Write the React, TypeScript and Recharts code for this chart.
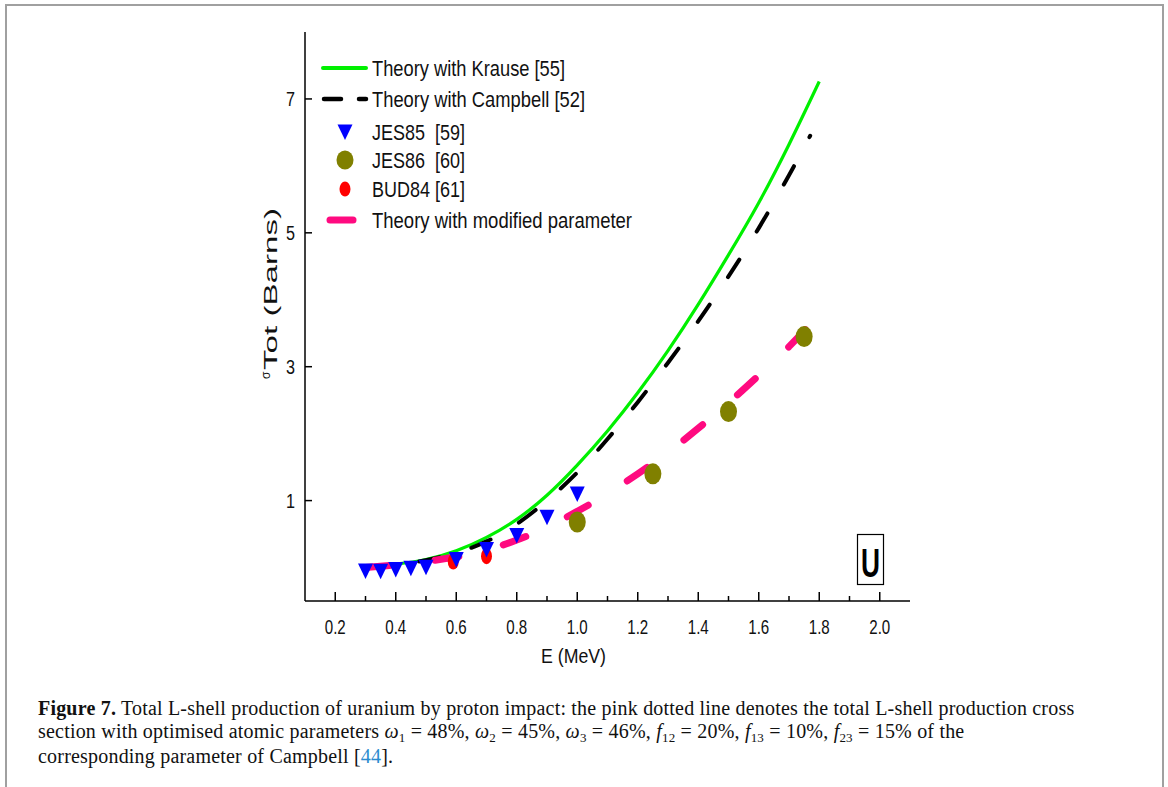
import React from "react";
import { ComposedChart, Line, Scatter, XAxis, YAxis, Legend } from "recharts";

// theory curves (E in MeV, sigma in barns)
const krauseE = [0.3, 0.4, 0.5, 0.6, 0.7, 0.8, 0.9, 1.0, 1.1, 1.2, 1.3, 1.4, 1.5, 1.6, 1.7, 1.8];
const krauseSigma = [0.0, 0.05, 0.12, 0.25, 0.45, 0.72, 1.08, 1.53, 2.04, 2.61, 3.24, 3.93, 4.67, 5.45, 6.32, 7.26];

const campbellE = [0.3, 0.4, 0.5, 0.6, 0.7, 0.8, 0.9, 1.0, 1.1, 1.2, 1.3, 1.4, 1.5, 1.6, 1.7, 1.77];
const campbellSigma = [0.0, 0.04, 0.11, 0.22, 0.39, 0.65, 1.0, 1.42, 1.92, 2.47, 3.06, 3.68, 4.35, 5.07, 5.86, 6.45];

const modifiedE = [0.3, 0.4, 0.5, 0.6, 0.7, 0.8, 0.9, 1.0, 1.1, 1.2, 1.3, 1.4, 1.5, 1.6, 1.7, 1.79];
const modifiedSigma = [0.0, 0.04, 0.09, 0.16, 0.26, 0.41, 0.6, 0.84, 1.1, 1.4, 1.72, 2.08, 2.46, 2.87, 3.3, 3.73];

// measurements
const jes85E = [0.3, 0.35, 0.4, 0.45, 0.5, 0.6, 0.7, 0.8, 0.9, 1.0];
const jes85Sigma = [-0.05, -0.055, -0.03, -0.01, 0.005, 0.12, 0.27, 0.48, 0.75, 1.1];

const jes86E = [1.0, 1.25, 1.5, 1.75];
const jes86Sigma = [0.68, 1.4, 2.33, 3.45];

const bud84E = [0.59, 0.7];
const bud84Sigma = [0.09, 0.17];

const xTicks = [0.2, 0.3, 0.4, 0.5, 0.6, 0.7, 0.8, 0.9, 1.0, 1.1, 1.2, 1.3, 1.4, 1.5, 1.6, 1.7, 1.8, 1.9, 2.0];
const yTicks = [1, 3, 5, 7];

const pts = (xs: number[], ys: number[]) => xs.map((E, i) => ({ E, s: ys[i] }));

const krause = pts(krauseE, krauseSigma);
const campbell = pts(campbellE, campbellSigma);
const modified = pts(modifiedE, modifiedSigma);
const jes85 = pts(jes85E, jes85Sigma);
const jes86 = pts(jes86E, jes86Sigma);
const bud84 = pts(bud84E, bud84Sigma);

const SANS = "'Liberation Sans', Arial, sans-serif";
const GREEN = "#00f000";
const PINK = "#ff0a80";
const OLIVE = "#808000";

// the source uses a condensed Arial, so texts are squeezed with textLength
function BottomTick({ x, y, payload }: any) {
  const v = payload.value as number;
  const major = Math.round(v * 10) % 2 === 0;
  return (
    <g>
      <line x1={x} x2={x} y1={y} y2={y - (major ? 9 : 5)} stroke="#000" strokeWidth={1.5} />
      {major && (
        <text
          x={x - 10.5}
          y={y + 33}
          fontFamily={SANS}
          fontSize={20}
          fill="#111"
          textLength={21}
          lengthAdjust="spacingAndGlyphs"
        >
          {v.toFixed(1)}
        </text>
      )}
    </g>
  );
}

function TopTick({ x, y }: any) {
  return <line x1={x} x2={x} y1={y} y2={y + 9} stroke="#000" strokeWidth={1.5} />;
}

function LeftTick({ x, y, payload }: any) {
  return (
    <g>
      <line x1={x} x2={x + 7} y1={y} y2={y} stroke="#000" strokeWidth={1.5} />
      <text
        x={x - 19}
        y={y + 7}
        fontFamily={SANS}
        fontSize={20}
        fill="#111"
        textLength={9}
        lengthAdjust="spacingAndGlyphs"
      >
        {payload.value}
      </text>
    </g>
  );
}

function RightTick({ x, y }: any) {
  return <line x1={x} x2={x - 9} y1={y} y2={y} stroke="#000" strokeWidth={1.5} />;
}

function XLabel() {
  return (
    <text x={541} y={663} fontFamily={SANS} fontSize={21} fill="#111" textLength={65} lengthAdjust="spacingAndGlyphs">
      E (MeV)
    </text>
  );
}

function YLabel() {
  return (
    <g fontFamily={SANS} fill="#111">
      <text transform="translate(270,379) rotate(-90)" fontSize={12}>
        σ
      </text>
      <text
        transform="translate(277,370) rotate(-90)"
        fontSize={19}
        textLength={162}
        lengthAdjust="spacingAndGlyphs"
      >
        Tot (Barns)
      </text>
    </g>
  );
}

function DownTriangle({ cx, cy, fill }: any) {
  return <path d={`M${cx - 7.5},${cy - 7.5} L${cx + 7.5},${cy - 7.5} L${cx},${cy + 8} Z`} fill={fill} />;
}

function OliveDot({ cx, cy }: any) {
  return <ellipse cx={cx} cy={cy} rx={8.5} ry={10.5} fill={OLIVE} />;
}

function RedDot({ cx, cy }: any) {
  return <ellipse cx={cx} cy={cy} rx={5.5} ry={8} fill="#ff0000" />;
}

const legendRows = [
  { label: "Theory with Krause [55]", len: 193, y: 68 },
  { label: "Theory with Campbell [52]", len: 213, y: 99 },
  { label: "JES85  [59]", len: 93, y: 132 },
  { label: "JES86  [60]", len: 93, y: 160 },
  { label: "BUD84 [61]", len: 93, y: 189 },
  { label: "Theory with modified parameter", len: 260, y: 220 },
];

function LegendBox() {
  return (
    <svg width={380} height={210} style={{ display: "block", overflow: "visible" }}>
      <g transform="translate(-300,-40)">
        <line x1={323} x2={366} y1={68} y2={68} stroke={GREEN} strokeWidth={4} strokeLinecap="round" />
        <line x1={324} x2={341} y1={99} y2={99} stroke="#000" strokeWidth={4.5} strokeLinecap="round" />
        <line x1={359} x2={366} y1={99} y2={99} stroke="#000" strokeWidth={4.5} strokeLinecap="round" />
        <DownTriangle cx={345} cy={132} fill="#0000ff" />
        <ellipse cx={345} cy={160} rx={8.5} ry={9.5} fill={OLIVE} />
        <ellipse cx={345} cy={189} rx={5.5} ry={7.5} fill="#ff0000" />
        <line x1={330} x2={353} y1={220} y2={220} stroke={PINK} strokeWidth={7} strokeLinecap="round" />
        {legendRows.map((r) => (
          <text
            key={r.label}
            x={372}
            y={r.y + 8}
            fontFamily={SANS}
            fontSize={22}
            fill="#111"
            textLength={r.len}
            lengthAdjust="spacingAndGlyphs"
            style={{ whiteSpace: "pre" }}
          >
            {r.label}
          </text>
        ))}
      </g>
    </svg>
  );
}

function Caption() {
  const sub = (t: string) => (
    <span style={{ fontSize: 13, position: "relative", top: 4, fontStyle: "normal" }}>{t}</span>
  );
  return (
    <div
      style={{
        position: "absolute",
        left: 38,
        top: 697,
        fontFamily: "'Liberation Serif', 'Times New Roman', serif",
        fontSize: 20,
        letterSpacing: 0.2,
        lineHeight: "23px",
        color: "#111",
        whiteSpace: "nowrap",
      }}
    >
      <div>
        <b>Figure 7.</b> Total L-shell production of uranium by proton impact: the pink dotted line denotes the total
        L-shell production cross
      </div>
      <div>
        section with optimised atomic parameters <i>ω</i>
        {sub("1")} = 48%, <i>ω</i>
        {sub("2")} = 45%, <i>ω</i>
        {sub("3")} = 46%, <i>f</i>
        {sub("12")} = 20%, <i>f</i>
        {sub("13")} = 10%, <i>f</i>
        {sub("23")} = 15% of the
      </div>
      <div>
        corresponding parameter of Campbell [<span style={{ color: "#2b8ccf" }}>44</span>].
      </div>
    </div>
  );
}

export default function App() {
  return (
    <div>
      <div
        style={{
          position: "absolute",
          left: 5,
          top: 4,
          width: 1159,
          height: 783,
          border: "2px solid #a0a0a0",
          borderBottom: "none",
          boxSizing: "border-box",
          background: "#fff",
        }}
      />
      <div style={{ position: "absolute", left: 0, top: 0 }}>
        <ComposedChart width={1168} height={690} margin={{ top: 32, right: 258, bottom: 29, left: 245 }}>
          <XAxis
            xAxisId="b"
            dataKey="E"
            type="number"
            domain={[0.1, 2.1]}
            ticks={xTicks}
            interval={0}
            allowDataOverflow
            height={60}
            tickSize={0}
            tickMargin={0}
            tickLine={false}
            tick={<BottomTick />}
            axisLine={{ stroke: "#000", strokeWidth: 1.5 }}
            label={<XLabel />}
          />
          <XAxis
            xAxisId="t"
            orientation="top"
            dataKey="E"
            type="number"
            domain={[0.1, 2.1]}
            ticks={xTicks}
            interval={0}
            allowDataOverflow
            height={0}
            tickSize={0}
            tickMargin={0}
            tickLine={false}
            tick={<TopTick />}
            axisLine={{ stroke: "#000", strokeWidth: 1.5 }}
          />
          <YAxis
            yAxisId="l"
            type="number"
            domain={[-0.5, 8]}
            ticks={yTicks}
            interval={0}
            allowDataOverflow
            width={60}
            tickSize={0}
            tickMargin={0}
            tickLine={false}
            tick={<LeftTick />}
            axisLine={{ stroke: "#000", strokeWidth: 1.5 }}
            label={<YLabel />}
          />
          <YAxis
            yAxisId="r"
            orientation="right"
            type="number"
            domain={[-0.5, 8]}
            ticks={yTicks}
            interval={0}
            allowDataOverflow
            width={0}
            tickSize={0}
            tickMargin={0}
            tickLine={false}
            tick={<RightTick />}
            axisLine={{ stroke: "#000", strokeWidth: 1.5 }}
          />
          <Legend
            layout="vertical"
            align="center"
            verticalAlign="middle"
            wrapperStyle={{ left: 300, top: 40, width: 380, height: 210 }}
            content={() => <LegendBox />}
          />
          <Scatter xAxisId="b" yAxisId="l" name="BUD84 [61]" data={bud84} dataKey="s" shape={<RedDot />} isAnimationActive={false} />
          <Scatter
            xAxisId="b"
            yAxisId="l"
            name="JES85 [59]"
            data={jes85}
            dataKey="s"
            shape={<DownTriangle fill="#0000ff" />}
            isAnimationActive={false}
          />
          <Scatter xAxisId="b" yAxisId="l" name="JES86 [60]" data={jes86} dataKey="s" shape={<OliveDot />} isAnimationActive={false} />
          <Line
            xAxisId="b"
            yAxisId="l"
            data={krause}
            dataKey="s"
            type="natural"
            stroke={GREEN}
            strokeWidth={3.2}
            dot={false}
            isAnimationActive={false}
          />
          <Line
            xAxisId="b"
            yAxisId="l"
            data={campbell}
            dataKey="s"
            type="natural"
            stroke="#000"
            strokeWidth={4}
            strokeDasharray="21 33"
            strokeLinecap="round"
            dot={false}
            isAnimationActive={false}
          />
          <Line
            xAxisId="b"
            yAxisId="l"
            data={modified}
            dataKey="s"
            type="natural"
            stroke={PINK}
            strokeWidth={7}
            strokeDasharray="24 46"
            strokeLinecap="round"
            dot={false}
            isAnimationActive={false}
          />
        </ComposedChart>
      </div>
      <svg width={60} height={70} style={{ position: "absolute", left: 840, top: 520 }}>
        <rect x={17.5} y={14.5} width={26} height={50} fill="#fff" stroke="#000" strokeWidth={1.2} />
        <text
          x={21}
          y={57}
          fontFamily={SANS}
          fontWeight="bold"
          fontSize={40}
          textLength={19}
          lengthAdjust="spacingAndGlyphs"
          fill="#000"
        >
          U
        </text>
      </svg>
      <Caption />
    </div>
  );
}
